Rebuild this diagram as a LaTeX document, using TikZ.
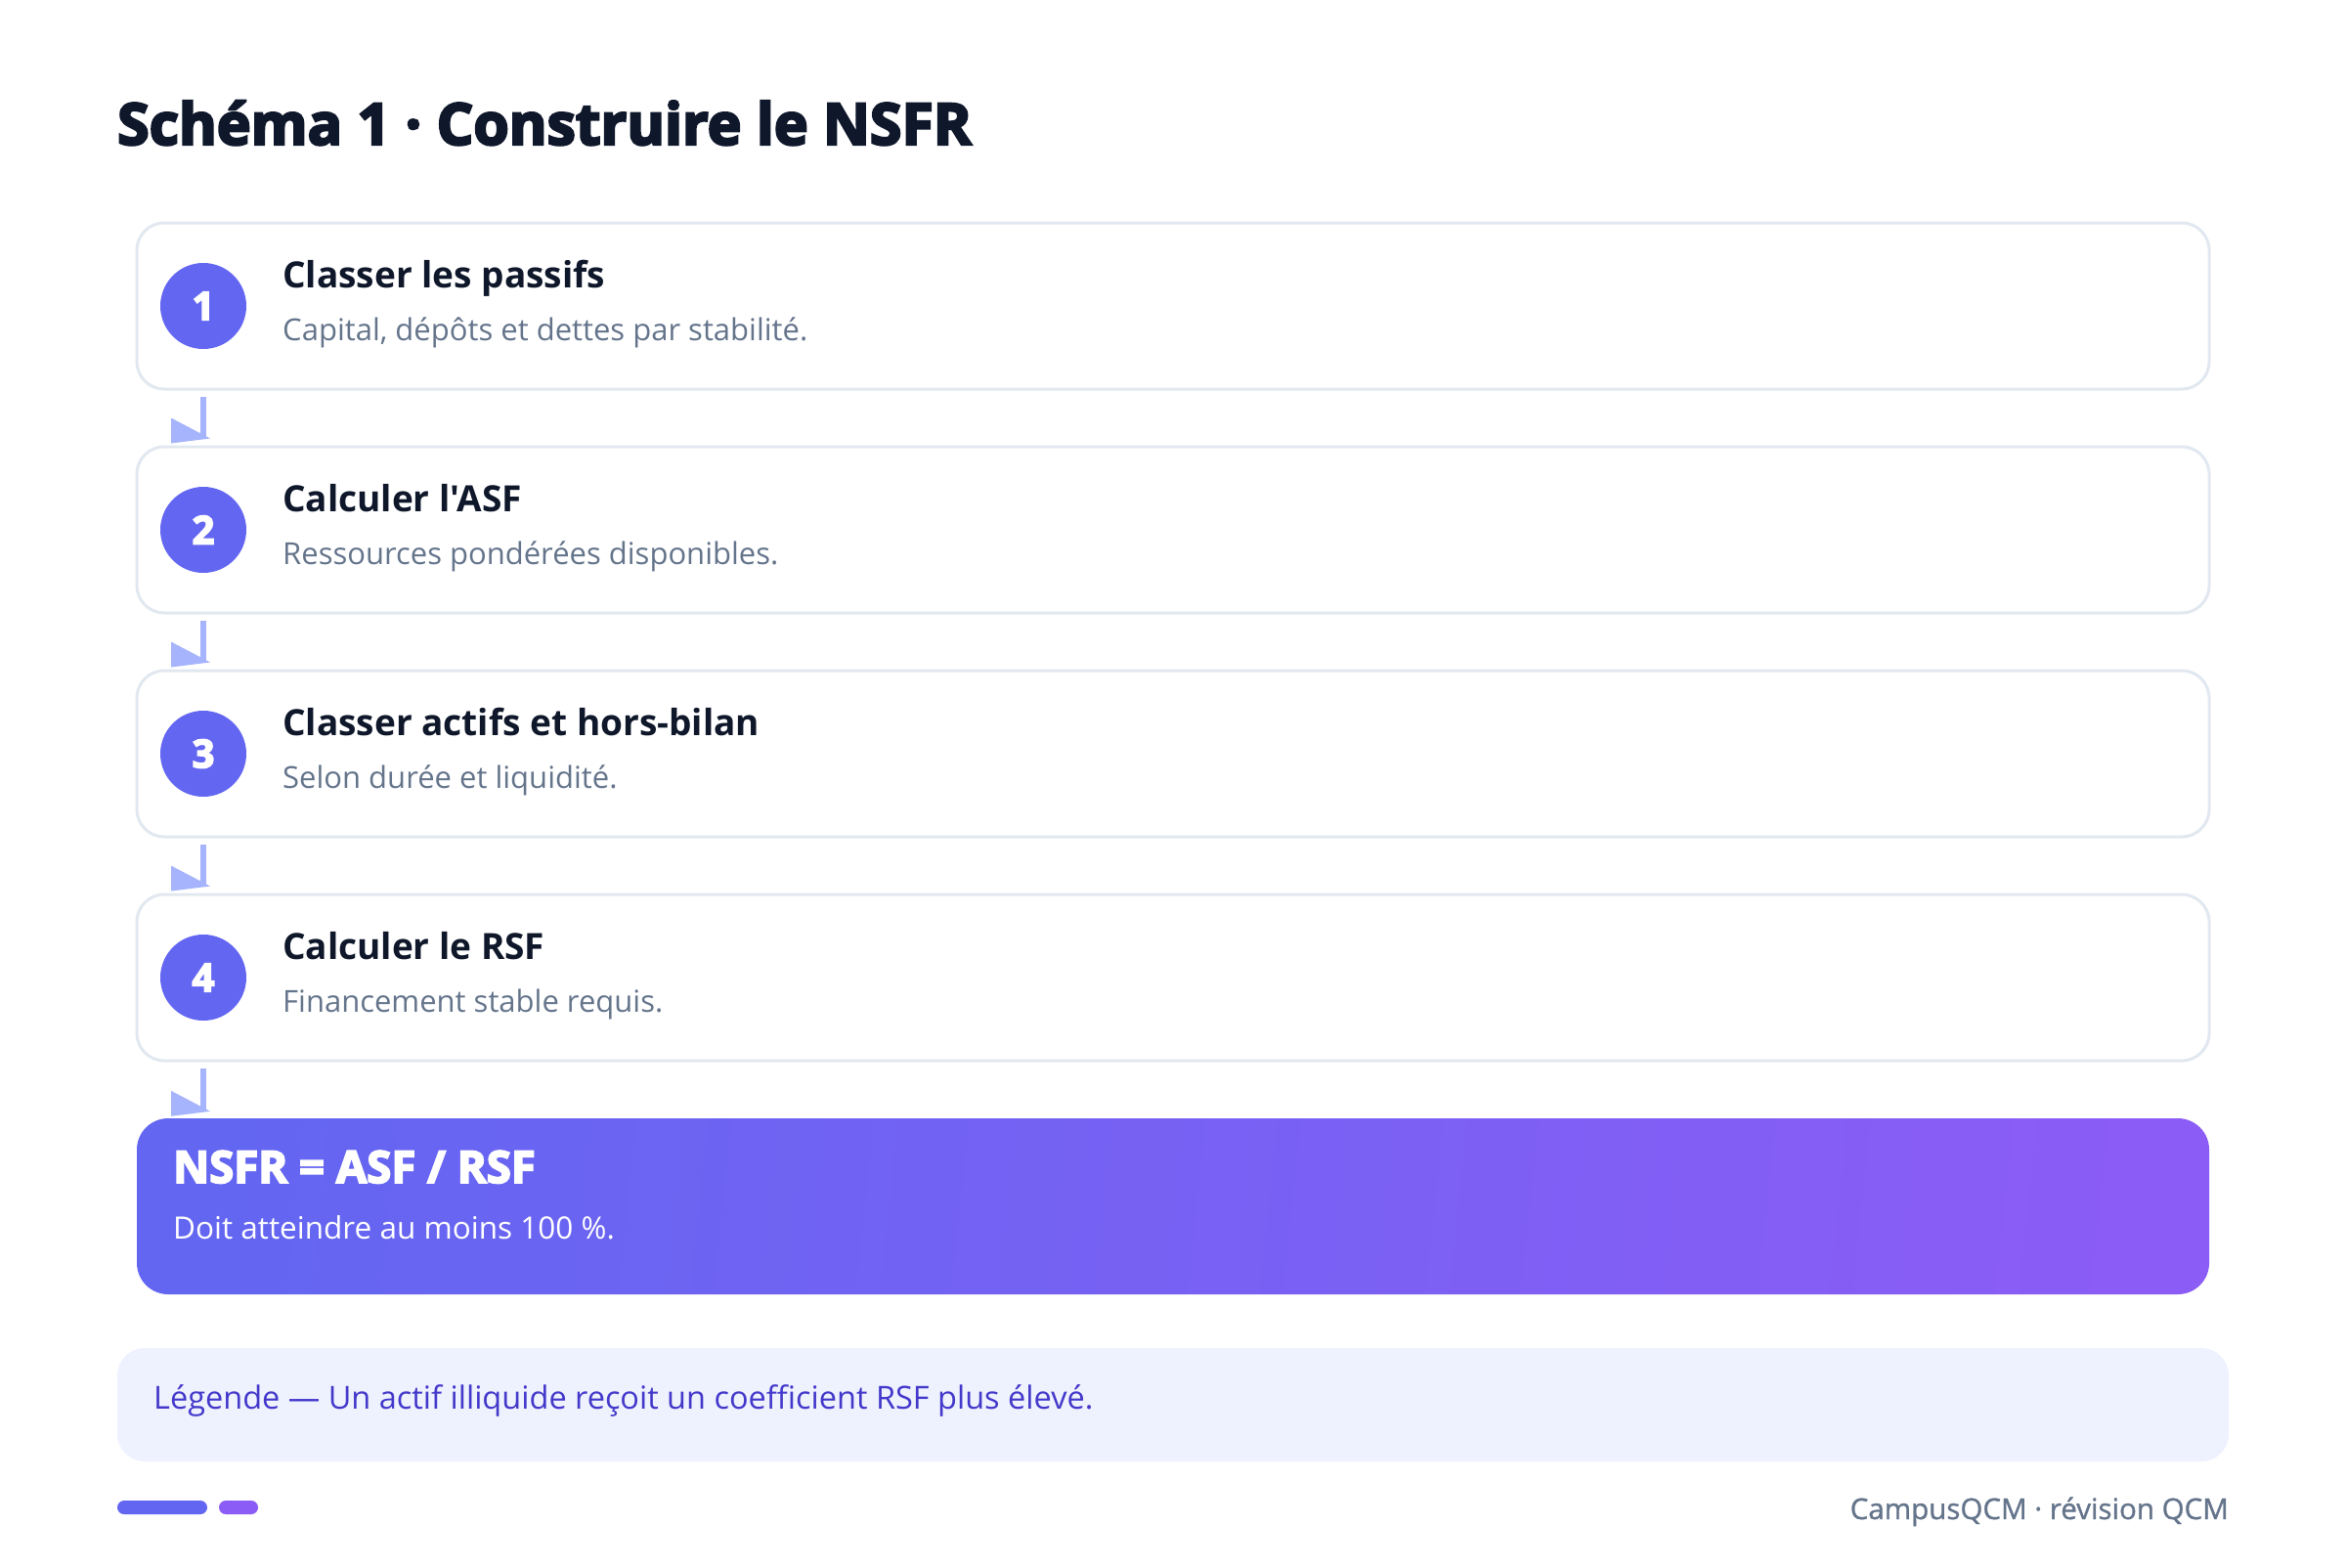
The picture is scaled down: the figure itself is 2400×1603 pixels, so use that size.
\documentclass[tikz,border=0pt]{standalone}
\usepackage{fontspec}
\setmainfont{Open Sans}[Ligatures=TeXOff]
\newfontfamily\heavyfont{Open Sans}[Ligatures=TeXOff, BoldFeatures={FakeBold=4}]
\newfontfamily\semifont{Open Sans}[Ligatures=TeXOff, FakeBold=1]
\usetikzlibrary{calc}
\definecolor{ink}{HTML}{0F172A}
\definecolor{slate}{HTML}{64748B}
\definecolor{border}{HTML}{E2E8F0}
\definecolor{ind}{HTML}{6366F1}
\definecolor{vio}{HTML}{8B5CF6}
\definecolor{arrowc}{HTML}{A5B4FC}
\definecolor{legbg}{HTML}{EEF2FF}
\definecolor{legtx}{HTML}{4338CA}
\tikzset{
  card/.style={draw=border, line width=3pt, rounded corners=28pt, fill=white,
    minimum width=2120pt, minimum height=170pt, inner sep=0pt},
  num/.style={circle, fill=ind, minimum size=88pt, inner sep=0pt, text=white,
    font=\fontsize{40}{44}\selectfont\heavyfont\bfseries},
  head/.style={anchor=base west, inner sep=0pt, text=ink,
    font=\fontsize{37}{42}\selectfont\bfseries},
  sub/.style={anchor=base west, inner sep=0pt, text=slate,
    font=\fontsize{31}{36}\selectfont},
  conn/.style={draw=arrowc, line width=6pt},
  tip/.style={fill=arrowc},
}
\begin{document}
\begin{tikzpicture}[x=1pt,y=-1pt]
\useasboundingbox (0,0) rectangle (2400,1603);
\fill[white] (0,0) rectangle (2400,1603);

% title
\node[anchor=base west, inner sep=0pt, text=ink,
  font=\fontsize{59}{66}\selectfont\heavyfont\bfseries] (title) at (120,148)
  {Schéma 1 · Construire le NSFR};

% cards
\node[card] (c1) at (1200,313) {};
\node[card] (c2) at (1200,542) {};
\node[card] (c3) at (1200,771) {};
\node[card] (c4) at (1200,1000) {};

\node[num] (n1) at (208,313) {1};
\node[num] (n2) at (208,542) {2};
\node[num] (n3) at (208,771) {3};
\node[num] (n4) at (208,1000) {4};

\node[head] (h1) at (289,294) {Classer les passifs};
\node[sub]  (s1) at (289,348) {Capital, dépôts et dettes par stabilité.};
\node[head] (h2) at (289,523) {Calculer l'ASF};
\node[sub]  (s2) at (289,577) {Ressources pondérées disponibles.};
\node[head] (h3) at (289,752) {Classer actifs et hors-bilan};
\node[sub]  (s3) at (289,806) {Selon durée et liquidité.};
\node[head] (h4) at (289,981) {Calculer le RSF};
\node[sub]  (s4) at (289,1035) {Financement stable requis.};

% final box
\node[rounded corners=32pt, left color=ind, right color=vio, shading angle=84,
  minimum width=2120pt, minimum height=180pt, inner sep=0pt] (fin) at (1200,1234) {};
\node[anchor=base west, inner sep=0pt, text=white,
  font=\fontsize{45.5}{50}\selectfont\heavyfont\bfseries] (ft) at (177,1210) {NSFR = ASF / RSF};
\node[anchor=base west, inner sep=0pt, text=white,
  font=\fontsize{31.5}{36}\selectfont] (fs) at (177,1267) {Doit atteindre au moins 100 \%.};

% connectors
\foreach \a/\b/\n in {c1/c2/n1, c2/c3/n2, c3/c4/n3, c4/fin/n4}{
  \coordinate (t-\a) at (\b.north -| \n.center);
  \draw[conn] ($(\a.south -| \n.center)+(0,6)$) -- ($(t-\a)+(0,-7)$);
  \fill[tip] ($(t-\a)+(-33,-28)$) -- ($(t-\a)+(-33,-2)$) -- ($(t-\a)+(7,-7)$) -- cycle;
}

% legend
\node[fill=legbg, rounded corners=28pt, minimum width=2160pt, minimum height=116pt,
  inner sep=0pt] (leg) at (1200,1437) {};
\node[anchor=base west, inner sep=0pt, text=legtx,
  font=\fontsize{32.5}{38}\selectfont] (lt) at (157,1441)
  {Légende — Un actif illiquide reçoit un coefficient RSF plus élevé.};

% footer
\fill[ind, rounded corners=7pt] (120,1535) rectangle (212,1549);
\fill[vio, rounded corners=7pt] (224,1535) rectangle (264,1549);
\node[anchor=base east, inner sep=0pt, text=slate,
  font=\fontsize{29.5}{34}\selectfont\semifont] (foot) at (2280,1554) {CampusQCM · révision QCM};
\end{tikzpicture}
\end{document}
